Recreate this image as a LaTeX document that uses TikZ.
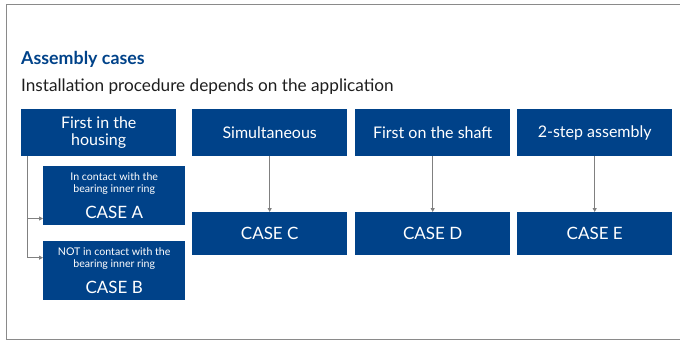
\documentclass[tikz,border=0pt]{standalone}
\usepackage{fontspec}
\setmainfont{Lato}
\usetikzlibrary{arrows.meta}
\definecolor{skfblue}{RGB}{0,66,137}
\definecolor{framegray}{RGB}{138,138,138}
\definecolor{linegray}{RGB}{128,128,128}
\definecolor{txt}{RGB}{30,30,30}
\tikzset{
  box/.style={fill=skfblue, draw=none, text=white, anchor=north west, inner sep=0pt, align=center, font=\fontsize{16}{17.4}\selectfont},
  topbox/.style={box, minimum width=155pt, minimum height=47pt},
  casebox/.style={box, minimum width=155pt, minimum height=43pt, font=\fontsize{17}{18}\selectfont},
  subbox/.style={box, minimum width=142pt, minimum height=59pt, font=\fontsize{10.6}{11.7}\selectfont},
  conn/.style={draw=linegray, line width=1pt, -{Triangle[length=4pt,width=4pt]}}
}
\newcommand{\casetxt}{\fontsize{17}{11.7}\selectfont}
\begin{document}
\begin{tikzpicture}[x=1pt,y=-1pt]
\useasboundingbox (0,0) rectangle (680,340);
\begin{scope}
\clip (0,0) rectangle (680,340);
\draw[framegray, line width=1.3pt] (6.7,4.7) rectangle (700,339.3);
\end{scope}
\node[anchor=base west, text=skfblue, font=\fontsize{17.8}{18}\selectfont\bfseries, inner sep=0pt] (title) at (21,64.3) {Assembly cases};
\node[anchor=base west, text=txt, font=\fontsize{17.2}{18}\selectfont, inner sep=0pt] (subtitle) at (21,91.7) {Installation procedure depends on the application};

\node[topbox] (h) at (21,109) {First in the\\housing};
\node[topbox] (s) at (192,109) {Simultaneous};
\node[topbox] (f) at (355,109) {First on the shaft};
\node[topbox] (t) at (517,109) {2-step assembly};

\node[casebox] (c) at (192,212) {CASE C};
\node[casebox] (d) at (355,212) {CASE D};
\node[casebox] (e) at (517,212) {CASE E};

\node[subbox] (a) at (43,166) {In contact with the\\bearing inner ring\\[10.5pt]\casetxt CASE A};
\node[subbox] (b) at (43,241) {NOT in contact with the\\bearing inner ring\\[10.5pt]\casetxt CASE B};

\coordinate (hb) at (27.5,156);
\coordinate (vend) at (27.5,258);
\coordinate (ya) at (27.5,218.5);
\coordinate (yb) at (27.5,257.7);
\draw[linegray, line width=1pt] (hb) -- (vend);
\draw[conn] (ya) -- (a.west |- ya);
\draw[conn] (yb) -- (b.west |- yb);

\draw[conn] (s.south) -- (c.north);
\draw[conn] (f.south) -- (d.north);
\draw[conn] (t.south) -- (e.north);
\end{tikzpicture}
\end{document}
